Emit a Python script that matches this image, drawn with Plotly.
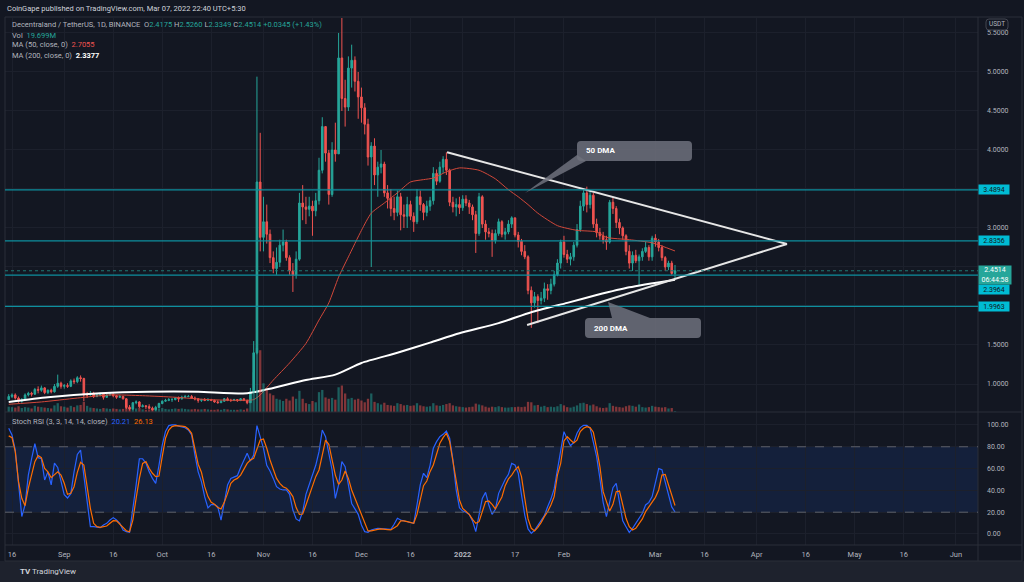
import plotly.graph_objects as go
import pandas as pd

W, H = 1024, 582
def px(x):
    return x / W
def py(y):
    return 1 - y / H

# ---------------- data ----------------
start_date = '2021-08-15'
first_open = 0.80

close = [
    # Aug 15-31
    0.84, 0.86, 0.82, 0.78, 0.80, 0.86, 0.88, 0.87, 0.93, 0.92, 0.95, 0.89, 0.92, 0.90, 0.97, 1.01, 0.97,
    # Sep
    0.98, 0.97, 1.04, 1.03, 1.08, 1.07, 0.86, 0.86, 0.88, 0.84, 0.86, 0.87, 0.83, 0.86, 0.87, 0.85,
    0.83, 0.84, 0.81, 0.70, 0.68, 0.76, 0.77, 0.71, 0.72, 0.71, 0.69, 0.67, 0.70, 0.75,
    # Oct
    0.78, 0.79, 0.80, 0.80, 0.82, 0.81, 0.83, 0.84, 0.84, 0.82, 0.81, 0.79, 0.80, 0.79, 0.80, 0.79,
    0.77, 0.76, 0.78, 0.81, 0.79, 0.79, 0.80, 0.79, 0.81, 0.79, 0.76, 0.90, 1.40, 3.59, 2.88,
    # Nov
    3.08, 2.92, 2.62, 2.48, 2.56, 2.78, 2.82, 2.62, 2.45, 2.40, 2.60, 3.32, 3.27, 3.24, 3.28,
    3.22, 3.35, 3.74, 4.30, 3.96, 3.43, 4.00, 3.95, 5.18, 4.66, 4.55, 5.05, 5.15, 4.88, 4.68,
    # Dec
    4.54, 4.33, 3.91, 4.05, 3.68, 3.78, 3.82, 3.45, 3.38, 3.25, 3.20, 3.40, 3.17, 3.15, 3.30, 3.15,
    3.08, 3.40, 3.30, 3.20, 3.28, 3.35, 3.70, 3.60, 3.78, 3.88, 3.74, 3.33, 3.27, 3.30, 3.26,
    # Jan
    3.37, 3.32, 3.27, 3.17, 2.93, 3.40, 3.05, 2.95, 2.93, 2.84, 2.93, 3.08, 2.92, 2.95, 3.05, 3.13,
    2.91, 2.83, 2.70, 2.63, 2.20, 2.04, 2.12, 2.07, 2.10, 2.22, 2.20, 2.28, 2.40, 2.55, 2.82,
    # Feb
    2.66, 2.60, 2.63, 2.78, 2.98, 3.28, 3.45, 3.30, 3.42, 3.05, 2.94, 2.90, 2.85, 2.82,
    3.33, 3.25, 3.07, 3.00, 2.90, 2.70, 2.55, 2.65, 2.58, 2.63, 2.70, 2.75, 2.63, 2.87,
    # Mar 1-7
    2.82, 2.75, 2.62, 2.50, 2.55, 2.4175, 2.4514,
]

high = [
    0.87, 0.88, 0.88, 0.84, 0.82, 0.88, 0.90, 0.90, 0.95, 0.97, 0.98, 0.96, 0.93, 0.94, 1.00, 1.12, 1.03,
    1.00, 1.01, 1.06, 1.07, 1.10, 1.11, 1.08, 0.90, 0.91, 0.90, 0.88, 0.89, 0.88, 0.87, 0.89, 0.88,
    0.86, 0.86, 0.85, 0.82, 0.73, 0.77, 0.79, 0.78, 0.74, 0.73, 0.74, 0.71, 0.72, 0.76,
    0.79, 0.81, 0.82, 0.82, 0.83, 0.84, 0.85, 0.86, 0.86, 0.86, 0.84, 0.82, 0.81, 0.82, 0.82, 0.81,
    0.80, 0.79, 0.79, 0.82, 0.83, 0.81, 0.81, 0.80, 0.82, 0.82, 0.80, 0.95, 1.55, 4.94, 4.22,
    3.40, 3.30, 2.98, 2.70, 2.75, 2.85, 2.98, 2.85, 2.65, 2.55, 2.70, 3.45, 3.55, 3.40, 3.40,
    3.35, 3.45, 3.90, 4.42, 4.30, 4.00, 4.10, 4.35, 5.50, 5.70, 4.90, 5.20, 5.35, 5.20, 5.00,
    4.80, 4.60, 4.40, 4.10, 4.15, 3.85, 4.00, 3.85, 3.55, 3.50, 3.40, 3.48, 3.45, 3.30, 3.40, 3.35,
    3.20, 3.50, 3.48, 3.32, 3.35, 3.40, 3.78, 3.75, 3.85, 3.92, 3.97, 3.76, 3.40, 3.38, 3.40,
    3.42, 3.42, 3.36, 3.30, 3.22, 3.45, 3.42, 3.10, 3.00, 2.98, 2.98, 3.12, 3.10, 3.00, 3.10, 3.15,
    3.13, 2.95, 2.86, 2.78, 2.65, 2.25, 2.18, 2.15, 2.18, 2.30, 2.28, 2.35, 2.45, 2.60, 2.85,
    2.90, 2.72, 2.68, 2.82, 3.05, 3.35, 3.50, 3.53, 3.48, 3.45, 3.12, 3.00, 2.95, 2.90,
    3.36, 3.39, 3.28, 3.12, 3.02, 2.92, 2.78, 2.70, 2.72, 2.66, 2.74, 2.82, 2.78, 2.90,
    2.92, 2.86, 2.78, 2.64, 2.58, 2.58, 2.526,
]

low = [
    0.80, 0.82, 0.80, 0.76, 0.76, 0.79, 0.84, 0.84, 0.86, 0.88, 0.90, 0.87, 0.87, 0.88, 0.89, 0.95, 0.94,
    0.94, 0.95, 0.96, 1.00, 1.01, 1.03, 0.78, 0.82, 0.85, 0.82, 0.83, 0.84, 0.80, 0.82, 0.85, 0.83,
    0.81, 0.82, 0.80, 0.68, 0.66, 0.67, 0.74, 0.69, 0.70, 0.68, 0.68, 0.66, 0.66, 0.69,
    0.74, 0.77, 0.78, 0.77, 0.79, 0.77, 0.80, 0.82, 0.83, 0.81, 0.79, 0.76, 0.77, 0.78, 0.78, 0.78,
    0.76, 0.75, 0.76, 0.77, 0.78, 0.77, 0.78, 0.77, 0.78, 0.78, 0.74, 0.76, 0.88, 1.38, 2.70,
    2.70, 2.80, 2.55, 2.42, 2.40, 2.50, 2.70, 2.58, 2.40, 2.18, 2.35, 2.58, 3.10, 3.05, 3.15,
    2.90, 3.15, 3.30, 3.70, 3.85, 3.30, 3.40, 3.85, 3.95, 4.50, 4.30, 4.50, 4.80, 4.75, 4.40,
    4.35, 4.20, 3.80, 2.50, 3.55, 3.40, 3.70, 3.40, 3.25, 3.15, 3.10, 3.15, 2.97, 3.00, 3.00, 3.10,
    2.95, 3.05, 3.22, 3.10, 3.15, 3.22, 3.30, 3.55, 3.58, 3.70, 3.68, 3.28, 3.20, 3.15, 3.18,
    3.22, 3.28, 3.18, 3.10, 2.68, 2.90, 3.00, 2.85, 2.88, 2.63, 2.80, 2.90, 2.88, 2.85, 2.92, 3.00,
    2.88, 2.75, 2.65, 2.60, 2.15, 1.72, 1.98, 1.78, 2.02, 2.05, 2.08, 2.15, 2.25, 2.38, 2.48,
    2.62, 2.55, 2.52, 2.58, 2.75, 2.95, 3.22, 3.20, 3.25, 3.00, 2.88, 2.85, 2.80, 2.72,
    2.80, 3.18, 3.00, 2.92, 2.85, 2.65, 2.48, 2.45, 2.55, 2.27, 2.58, 2.68, 2.58, 2.58,
    2.76, 2.70, 2.58, 2.45, 2.46, 2.40, 2.3349,
]

# volume, millions
volume = [
    120, 110, 100, 130, 90, 110, 100, 80, 140, 120, 110, 100, 90, 80, 150, 200, 130,
    120, 100, 140, 110, 150, 160, 230, 140, 100, 90, 80, 70, 90, 80, 70, 80, 70, 60, 70, 150,
    120, 110, 80, 90, 60, 50, 60, 70, 60, 80,
    90, 70, 60, 70, 80, 70, 80, 70, 60, 60, 70, 60, 60, 70, 60, 50, 50, 60, 50, 70, 60, 50,
    50, 50, 60, 50, 80, 350, 900, 1450, 1400,
    650, 500, 420, 380, 300, 280, 250, 300, 260, 350, 300, 480, 300, 200, 180, 250, 220, 450,
    500, 330, 300, 320, 280, 560, 600, 420, 300, 320, 280, 300,
    260, 220, 300, 420, 230, 200, 170, 210, 160, 150, 140, 200, 180, 150, 160, 140, 150, 200,
    150, 130, 120, 130, 200, 150, 140, 160, 180, 200, 150, 130, 120,
    110, 100, 110, 120, 190, 170, 150, 120, 100, 120, 110, 130, 110, 100, 100, 110, 110, 120,
    110, 120, 230, 220, 150, 160, 120, 140, 110, 120, 110, 130, 180,
    150, 110, 100, 120, 150, 200, 210, 180, 150, 170, 130, 100, 90, 100, 200, 140, 120, 110,
    100, 130, 150, 140, 120, 170, 110, 100, 110, 140,
    120, 110, 100, 110, 80, 90, 20,
]

stoch_k = [
    97, 90.8, 77, 45, 16, 26.6, 54, 69, 83, 70, 69, 49.5, 57, 45, 65, 61, 49.5,
    36, 33, 37, 57, 73, 77, 52.6, 26.6, 6.7, 6.7, 6.1, 5.8, 8.3, 9.8, 12.8, 15, 12.8, 9.8,
    3.7, 2.1, 1.5, 22, 45, 69, 69, 65, 57, 51, 46.5,
    63, 81.6, 94, 99.4, 100, 100, 99, 98.5, 97.5, 95.4, 90.8, 72.5, 57, 48, 34, 24, 27, 27,
    25, 12.8, 29.7, 45, 51, 52.3, 53.5, 61, 68, 74, 67, 72.5, 99.4,
    90, 78.6, 63, 57.8, 51, 43.4, 41.3, 40.4, 40.4, 36.4, 22, 13.8, 12, 20.5, 36.4, 45,
    52.6, 63, 75.5, 95.4, 89.3, 74, 58.7, 32.7, 45, 66.4, 61.8, 45, 28, 23,
    18, 8.3, 2.1, 1.5, 3.7, 4.6, 5.2, 4.9, 4.6, 4, 4.3, 8.9, 14.4, 12.8, 12, 10.7, 10, 9.8,
    26.6, 45, 55.7, 51.7, 63, 78.6, 84.7, 89.3, 91.4, 94.5, 87.8, 68, 40.4, 24,
    21, 19.9, 18, 12, 2.1, 19, 32.7, 38.2, 26.6, 18, 22.6, 37.3, 44, 50, 54.7, 64.8,
    63.3, 55.7, 35.8, 17.4, 4.6, 0.6, 3.4, 8.3, 12.8, 16.8, 25, 32, 41.3, 60, 77,
    93.9, 87, 81, 84, 92.4, 97.6, 99.7, 99.7, 97, 84, 71, 51, 29, 15.9,
    28, 42.5, 46.5, 29, 12, 6.7, 1.5, 5.2, 9.8, 13.8, 19, 26.6, 29, 34.3,
    46.5, 60, 59, 48, 35.8, 24.8, 20.21,
]

stoch_d = [
    90, 88.4, 75.5, 48, 32.7, 26, 42, 55.7, 66.4, 71.9, 70, 60.2, 57, 51.7, 54.7, 57, 54,
    46.5, 36.4, 37.3, 43.4, 56.6, 65.7, 63.3, 43.4, 23.5, 9.8, 6.7, 6.1, 6.7, 7.3, 9.8, 12.2,
    12, 9.2, 5.8, 3, 2.1, 12.8, 32.7, 51, 64.8, 66.4, 60.2, 55.7, 52.6,
    53.2, 71, 87.8, 95.4, 98.5, 99.4, 99.4, 99, 98.5, 96.3, 92.4, 78.6, 64, 56.6, 43.4, 34.3,
    29, 27.2, 24.2, 23, 29, 37.3, 46.5, 49.5, 51, 54, 59.3, 64.8, 67.9, 69.4, 78,
    86.2, 87.2, 78.6, 67.9, 58.7, 51, 46.5, 43.4, 42, 38.8, 34.3, 24.2, 18, 18.3, 26.6, 35.2,
    44.3, 52.6, 58.7, 71.9, 86.2, 82.3, 69.4, 54, 45.6, 49.5, 57.8, 51, 40.4, 32.7,
    25, 17.4, 8.9, 2.8, 2.8, 3.7, 4.3, 4.6, 4.6, 4, 3.7, 5.8, 7.6, 12, 12, 11.3, 10.4, 9.8,
    18, 32.7, 44.3, 48.6, 57.2, 63.3, 73, 83.2, 88.4, 92.4, 84.7, 66.4, 48, 31.2,
    23.5, 20.5, 18, 13.5, 9.8, 11.3, 19.9, 29.7, 30.3, 27.2, 23, 28, 34, 44.3, 50.5, 54,
    58.7, 61.8, 52.6, 32.7, 13.8, 5.2, 2.8, 6.1, 10.4, 15.9, 20.5, 26.6, 34.3, 54, 64.8,
    85.3, 89.3, 86.2, 83.5, 86, 93.9, 97, 98.5, 97.6, 93.3, 78.6, 61.8, 38.8, 29,
    21, 27.2, 38.8, 39.4, 26.6, 14.4, 6.7, 3.7, 5.2, 9.8, 13.8, 20.5, 25, 29,
    33.6, 40.4, 54, 54.7, 45, 34.3, 26.13,
]

ma50_dates = ['2021-08-15', '2021-08-25', '2021-09-05', '2021-09-15', '2021-09-25', '2021-10-05',
              '2021-10-15', '2021-10-25', '2021-10-29', '2021-10-31', '2021-11-04', '2021-11-09',
              '2021-11-14', '2021-11-18', '2021-11-21', '2021-11-24', '2021-11-27', '2021-12-01',
              '2021-12-04', '2021-12-08', '2021-12-12', '2021-12-16', '2021-12-20', '2021-12-23',
              '2021-12-27', '2021-12-31', '2022-01-06', '2022-01-11', '2022-01-15', '2022-01-18',
              '2022-01-21', '2022-01-24', '2022-01-30', '2022-02-05', '2022-02-11', '2022-02-14',
              '2022-02-21', '2022-02-28', '2022-03-07']
ma50_values = [0.74, 0.77, 0.82, 0.86, 0.85, 0.83, 0.80, 0.79, 0.80, 0.86, 1.05, 1.27, 1.52, 1.82,
               2.04, 2.37, 2.63, 2.97, 3.19, 3.32, 3.45, 3.59, 3.62, 3.64, 3.72, 3.77, 3.74, 3.63,
               3.49, 3.40, 3.30, 3.19, 3.03, 2.97, 2.95, 2.88, 2.85, 2.81, 2.7055]

ma200_dates = ['2021-08-15', '2021-08-27', '2021-09-12', '2021-09-27', '2021-10-12', '2021-10-27',
               '2021-11-04', '2021-11-14', '2021-11-23', '2021-12-01', '2021-12-12', '2021-12-22',
               '2021-12-31', '2022-01-12', '2022-01-22', '2022-02-02', '2022-02-11', '2022-02-21',
               '2022-03-07']
ma200_values = [0.77, 0.83, 0.88, 0.90, 0.90, 0.88, 0.95, 1.05, 1.12, 1.27, 1.40, 1.53, 1.65, 1.78,
                1.92, 2.04, 2.14, 2.24, 2.3377]

levels = [3.4894, 2.8356, 2.3964, 1.9963]
last_price = 2.4514

upper_trend = (['2021-12-27 05:00', '2022-04-10 07:00'], [3.97, 2.795])
lower_trend = (['2022-01-20 17:00', '2022-04-10 07:00'], [1.756, 2.795])

tick_dates = ['2021-08-16', '2021-09-01', '2021-09-16', '2021-10-01', '2021-10-16', '2021-11-01',
              '2021-11-16', '2021-12-01', '2021-12-16', '2022-01-01', '2022-01-17', '2022-02-01',
              '2022-03-01', '2022-03-16', '2022-04-01', '2022-04-16', '2022-05-01', '2022-05-16',
              '2022-06-01']
tick_text = ['16', 'Sep', '16', 'Oct', '16', 'Nov', '16', 'Dec', '16', '<b>2022</b>', '17', 'Feb',
             'Mar', '16', 'Apr', '16', 'May', '16', 'Jun']
price_ticks = [1.0, 1.5, 2.0, 2.5, 3.0, 3.5, 4.0, 4.5, 5.0, 5.5]
hidden_price_ticks = [2.0, 2.5, 3.5]   # covered by the price labels in the original
rsi_ticks = [0, 20, 40, 60, 80, 100]

# ---------------- styling ----------------
BG = '#131722'
GRID = '#1c202c'
TXT = '#b2b5be'
FONT = 'Roboto'
UP = '#26a69a'
DN = '#ef5350'
LEVEL = '#0e8f9e'
LABEL_BG = '#00bcd4'

dates = pd.date_range(start_date, periods=len(close), freq='D')
opens = [first_open] + close[:-1]
vol_colors = ['rgba(38,166,154,0.5)' if c >= o else 'rgba(239,83,80,0.5)' for o, c in zip(opens, close)]

x_range = ['2021-08-13 20:35', '2022-06-07 18:30']
xdom = [px(5), px(978)]

fig = go.Figure()
fig.add_trace(go.Bar(x=dates, y=volume, marker=dict(color=vol_colors, line=dict(width=0)),
                     xaxis='x', yaxis='y3', hoverinfo='skip'))
fig.add_trace(go.Candlestick(x=dates, open=opens, high=high, low=low, close=close,
                             increasing=dict(line=dict(color=UP, width=1), fillcolor=UP),
                             decreasing=dict(line=dict(color=DN, width=1), fillcolor=DN),
                             whiskerwidth=0, xaxis='x', yaxis='y'))
fig.add_trace(go.Scatter(x=ma50_dates, y=ma50_values, mode='lines',
                         line=dict(color='#d2483a', width=1, shape='spline', smoothing=0.6),
                         xaxis='x', yaxis='y'))
fig.add_trace(go.Scatter(x=ma200_dates, y=ma200_values, mode='lines',
                         line=dict(color='#ffffff', width=2, shape='spline', smoothing=0.6),
                         xaxis='x', yaxis='y'))
fig.add_trace(go.Scatter(x=upper_trend[0], y=upper_trend[1], mode='lines',
                         line=dict(color='#e6e6e6', width=2), xaxis='x', yaxis='y'))
fig.add_trace(go.Scatter(x=lower_trend[0], y=lower_trend[1], mode='lines',
                         line=dict(color='#e6e6e6', width=2), xaxis='x', yaxis='y'))
fig.add_trace(go.Scatter(x=dates, y=stoch_k, mode='lines', line=dict(color='#2962ff', width=1.2),
                         xaxis='x2', yaxis='y2'))
fig.add_trace(go.Scatter(x=dates, y=stoch_d, mode='lines', line=dict(color='#ff6d00', width=1.2),
                         xaxis='x2', yaxis='y2'))

vmax = max(volume) * 394 / 64

fig.update_layout(
    width=W, height=H, margin=dict(l=0, r=0, t=0, b=0),
    paper_bgcolor=BG, plot_bgcolor=BG, showlegend=False,
    font=dict(family=FONT, color=TXT, size=7),
    bargap=0.3, boxgap=0.3,
    xaxis=dict(domain=xdom, anchor='y', type='date', range=x_range,
               rangeslider=dict(visible=False), showticklabels=False,
               tickvals=tick_dates, showgrid=True, gridcolor=GRID, gridwidth=1,
               zeroline=False, showline=False, ticks=''),
    xaxis2=dict(domain=xdom, anchor='y2', matches='x', type='date', range=x_range,
                tickvals=tick_dates, ticktext=tick_text, showgrid=True, gridcolor=GRID,
                tickfont=dict(family=FONT, size=7.5, color=TXT), zeroline=False,
                showline=False, ticks='', ticklabelstandoff=3),
    yaxis=dict(domain=[py(412), py(18)], range=[0.641, 5.692], side='right', anchor='x',
               tickvals=price_ticks,
               ticktext=['' if v in hidden_price_ticks else f'{v:.4f}' for v in price_ticks],
               showgrid=True, gridcolor=GRID, zeroline=False, showline=False, ticks='',
               tickfont=dict(family=FONT, size=7, color=TXT), ticklabelstandoff=8),
    yaxis2=dict(domain=[py(545), py(412)], range=[-10.1, 111.9], side='right', anchor='x2',
                tickvals=rsi_ticks, ticktext=[f'{v:.2f}' for v in rsi_ticks],
                showgrid=True, gridcolor=GRID, zeroline=False, showline=False, ticks='',
                tickfont=dict(family=FONT, size=7, color=TXT), ticklabelstandoff=8),
    yaxis3=dict(overlaying='y', range=[0, vmax], visible=False, anchor='x'),
)

shapes = []
# footer strip, frame lines
shapes.append(dict(type='rect', xref='paper', yref='paper', x0=0, x1=1, y0=0, y1=py(561),
                   fillcolor='#1e222d', line=dict(width=0), layer='below'))
for yy in (17, 412, 545, 561):
    shapes.append(dict(type='line', xref='paper', yref='paper', x0=px(5), x1=px(1022),
                       y0=py(yy), y1=py(yy), line=dict(color='#2a2e39', width=1)))
for xx in (5, 978, 1022):
    shapes.append(dict(type='line', xref='paper', yref='paper', x0=px(xx), x1=px(xx),
                       y0=py(561), y1=py(17), line=dict(color='#2a2e39', width=1)))
# RSI band
shapes.append(dict(type='rect', xref='paper', yref='y2', x0=xdom[0], x1=xdom[1], y0=20, y1=80,
                   fillcolor='rgba(33,100,243,0.12)', line=dict(width=0), layer='below'))
for lv in (20, 80):
    shapes.append(dict(type='line', xref='paper', yref='y2', x0=xdom[0], x1=xdom[1], y0=lv, y1=lv,
                       line=dict(color='#5d606b', width=1, dash='dash')))
# horizontal levels
for lv in levels:
    shapes.append(dict(type='line', xref='paper', yref='y', x0=xdom[0], x1=xdom[1], y0=lv, y1=lv,
                       line=dict(color=LEVEL, width=1.3)))
shapes.append(dict(type='line', xref='paper', yref='y', x0=xdom[0], x1=xdom[1], y0=last_price,
                   y1=last_price, line=dict(color='#1f7a74', width=1, dash='dot')))

def rounded(x0, y0, x1, y1, r):
    X = lambda v: f'{px(v):.5f}'
    Y = lambda v: f'{py(v):.5f}'
    return (f'M {X(x0 + r)} {Y(y0)} L {X(x1 - r)} {Y(y0)} Q {X(x1)} {Y(y0)} {X(x1)} {Y(y0 + r)} '
            f'L {X(x1)} {Y(y1 - r)} Q {X(x1)} {Y(y1)} {X(x1 - r)} {Y(y1)} '
            f'L {X(x0 + r)} {Y(y1)} Q {X(x0)} {Y(y1)} {X(x0)} {Y(y1 - r)} '
            f'L {X(x0)} {Y(y0 + r)} Q {X(x0)} {Y(y0)} {X(x0 + r)} {Y(y0)} Z')

def tri(pts):
    return 'M ' + ' L '.join(f'{px(a):.5f} {py(b):.5f}' for a, b in pts) + ' Z'

CALLOUT = 'rgba(110,113,124,0.85)'
shapes.append(dict(type='path', xref='paper', yref='paper', path=tri([(577, 155), (586, 161), (525, 193)]),
                   fillcolor=CALLOUT, line=dict(width=0)))
shapes.append(dict(type='path', xref='paper', yref='paper', path=rounded(577, 141, 692, 161, 4),
                   fillcolor=CALLOUT, line=dict(width=0)))
shapes.append(dict(type='path', xref='paper', yref='paper', path=tri([(612, 318), (650, 318), (608, 302)]),
                   fillcolor=CALLOUT, line=dict(width=0)))
shapes.append(dict(type='path', xref='paper', yref='paper', path=rounded(585, 318, 701, 338, 4),
                   fillcolor=CALLOUT, line=dict(width=0)))
# USDT box
shapes.append(dict(type='path', xref='paper', yref='paper', path=rounded(986, 19, 1008, 30, 3),
                   fillcolor='rgba(0,0,0,0)', line=dict(color='#434651', width=1)))
fig.update_layout(shapes=shapes)

ann = []
def text(x, y, s, size=7.5, color=TXT, xanchor='left', yanchor='middle'):
    ann.append(dict(xref='paper', yref='paper', x=px(x), y=py(y), text=s, showarrow=False,
                    xanchor=xanchor, yanchor=yanchor, font=dict(family=FONT, size=size, color=color)))

text(5, 9, 'CoinGape published on TradingView.com, Mar 07, 2022 22:40 UTC+5:30', color='#d1d4dc')
tv = f'<span style="color:{UP}">'
text(10, 25, f'Decentraland / TetherUS, 1D, BINANCE  O{tv}2.4175</span> H{tv}2.5260</span> '
             f'L{tv}2.3349</span> C{tv}2.4514</span> {tv}+0.0345 (+1.43%)</span>', color=TXT)
text(10, 35, f'Vol  {tv}19.699M</span>')
text(10, 45, 'MA (50, close, 0)  <span style="color:#ef5350">2.7055</span>')
text(10, 55, 'MA (200, close, 0)  <span style="color:#ffffff"><b>2.3377</b></span>')
text(10, 421, 'Stoch RSI (3, 3, 14, 14, close)  <span style="color:#2962ff">20.21</span>  '
              '<span style="color:#ff6d00">26.13</span>')
text(997, 24.5, 'USDT', size=6.5, xanchor='center')
text(584, 151, '<b>50 DMA</b>', size=8, color='#ffffff')
text(592, 328, '<b>200 DMA</b>', size=8, color='#ffffff')
text(18, 571, '<b>TV</b> TradingView', size=8, color='#d1d4dc')

for lv in (3.4894, 2.8356, 1.9963):
    ann.append(dict(xref='paper', yref='y', x=px(978), y=lv, text=f'{lv:.4f}', showarrow=False,
                    xanchor='left', yanchor='middle', bgcolor=LABEL_BG, width=29, height=8,
                    font=dict(family=FONT, size=7, color='#131722'), borderpad=0.5))
ann.append(dict(xref='paper', yref='paper', x=px(978), y=py(284), text='2.3964', showarrow=False,
                xanchor='left', yanchor='top', bgcolor=LABEL_BG, width=29, height=8,
                font=dict(family=FONT, size=7, color='#131722'), borderpad=0.5))
ann.append(dict(xref='paper', yref='paper', x=px(978), y=py(265), text='2.4514<br>06:44:58',
                showarrow=False, xanchor='left', yanchor='top', bgcolor='#26a69a', width=31, height=17,
                font=dict(family=FONT, size=7, color='#ffffff'), borderpad=0.5))
fig.update_layout(annotations=ann)

fig.write_html('out.html',
               config={'displayModeBar': False},
               post_script="document.body.style.margin='0';document.body.style.padding='0';"
                           "document.body.style.overflow='hidden';"
                           "document.body.style.background='#131722';")
